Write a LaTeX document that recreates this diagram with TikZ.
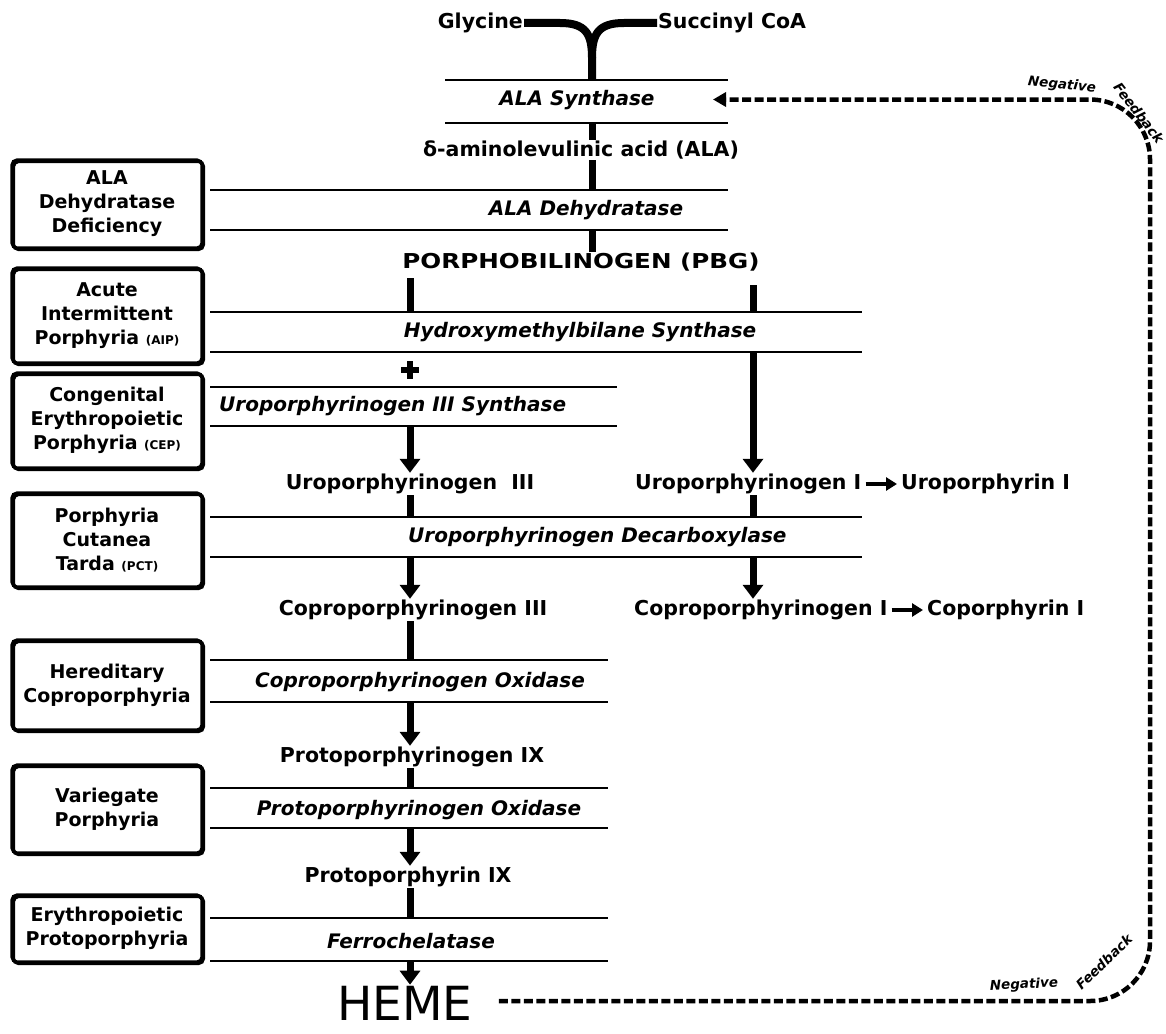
\documentclass[tikz,border=0pt]{standalone}
\usepackage{fontspec}
\usepackage{graphicx}
\setmainfont{DejaVu Sans}
\usetikzlibrary{arrows.meta}

\begin{document}
\begin{tikzpicture}[x=1pt,y=-1pt,
  chem/.style={font=\bfseries\fontsize{20.5}{22}\selectfont, inner sep=1pt},
  enz/.style={font=\bfseries\itshape\fontsize{20}{22}\selectfont, inner sep=1pt},
  band/.style={inner sep=0pt, outer sep=0pt},
  rule/.style={line width=2.5pt},
  stem/.style={line width=7pt},
  arr/.style={line width=7pt, -{Triangle[length=14pt,width=20pt]}},
  sarr/.style={line width=4.5pt, -{Triangle[length=11pt,width=13pt]}, shorten <=3pt, shorten >=3pt},
  disease/.style={draw, line width=3.2pt, rounded corners=5pt, minimum width=190pt,
    align=center, inner sep=2pt, font=\bfseries\fontsize{19}{24}\selectfont,
    preaction={draw, line width=3.2pt, transform canvas={shift={(1.5pt,-1.5pt)}}}},
  feedback/.style={line width=4.5pt, dash pattern=on 9pt off 3.5pt, rounded corners=60pt},
  fbtext/.style={font=\bfseries\itshape\fontsize{13.5}{13.5}\selectfont, inner sep=0pt},
]
\useasboundingbox (0,0) rectangle (1166,1033);

% reaction columns
\coordinate (colA) at (592,0);
\coordinate (colL) at (410,0);
\coordinate (colR) at (753,0);
\coordinate (colFB) at (1150,0);

% ---- enzyme bands ----
\node[band, minimum width=283pt, minimum height=43pt] (bsyn)   at (586.5,101.5) {};
\node[band, minimum width=518pt, minimum height=40pt] (bdehyd) at (469,210) {};
\node[band, minimum width=652pt, minimum height=40pt] (bhmbs)  at (536,332) {};
\node[band, minimum width=407pt, minimum height=39pt] (buro)   at (413.5,406.5) {};
\node[band, minimum width=652pt, minimum height=40pt] (burod)  at (536,537) {};
\node[band, minimum width=398pt, minimum height=42pt] (bcpo)   at (409,681) {};
\node[band, minimum width=398pt, minimum height=40pt] (bppo)   at (409,808) {};
\node[band, minimum width=398pt, minimum height=43pt] (bfech)  at (409,939.5) {};
\foreach \b in {bsyn,bdehyd,bhmbs,buro,burod,bcpo,bppo,bfech}{
  \draw[rule] (\b.north west) -- (\b.north east);
  \draw[rule] (\b.south west) -- (\b.south east);
}

% ---- enzyme names ----
\node[enz] (tsyn)   at (577,100) {ALA Synthase};
\node[enz] (tdehyd) at (586,210) {ALA Dehydratase};
\node[enz] (thmbs)  at (580,332) {Hydroxymethylbilane Synthase};
\node[enz, anchor=west] (turo) at (218,406) {Uroporphyrinogen III Synthase};
\node[enz, anchor=west] (turod) at (407,537) {Uroporphyrinogen Decarboxylase};
\node[enz] (tcpo)   at (420,682) {Coproporphyrinogen Oxidase};
\node[enz] (tppo)   at (419,810) {Protoporphyrinogen Oxidase};
\node[enz] (tfech)  at (411,941) {Ferrochelatase};

% ---- metabolites ----
\node[chem, anchor=east] (gly)  at (524,23) {Glycine};
\node[chem, anchor=west] (succ) at (657,23) {Succinyl CoA};
\node[chem] (ala)  at (581,150) {δ-aminolevulinic acid (ALA)};
\node[chem] (pbg)  at (581,262) {\scalebox{1.2}[1]{PORPHOBILINOGEN (PBG)}};
\node[chem] (uro3) at (410,484) {Uroporphyrinogen\ \ III};
\node[chem, anchor=west] (uro1) at (634,484) {Uroporphyrinogen I};
\node[chem, anchor=west] (uroporph) at (900,484) {Uroporphyrin I};
\node[chem] (copro3) at (413,610) {Coproporphyrinogen III};
\node[chem, anchor=west] (copro1) at (633,610) {Coproporphyrinogen I};
\node[chem, anchor=west] (coporph) at (926,610) {Coporphyrin I};
\node[chem] (protogen) at (412,757) {Protoporphyrinogen IX};
\node[chem] (proto) at (408,877) {Protoporphyrin IX};
\node[font=\fontsize{47}{47}\selectfont, inner sep=1pt] (heme) at (405,1003) {HEME};

% ---- Glycine + Succinyl CoA joining into ALA synthase ----
\draw[line width=8pt] (gly.east) -- (560,23) .. controls (586,23) and (592,34) .. (592,58)
  -- (bsyn.north -| colA);
\draw[line width=8pt] (succ.west) -- (624,23) .. controls (598,23) and (592,34) .. (592,58);

% ---- main pathway ----
\draw[stem] (bsyn.south -| colA) -- (ala.north -| colA);
\draw[stem] (ala.south -| colA) -- (bdehyd.north -| colA);
\draw[stem] (bdehyd.south -| colA) -- (pbg.north -| colA);
\draw[stem] ([yshift=-6pt]pbg.south -| colL) -- (bhmbs.north -| colL);
\draw[stem] ([yshift=-13pt]pbg.south -| colR) -- (bhmbs.north -| colR);

% cofactor mark between the two synthases
\node[inner sep=0pt, minimum size=17pt] (plus) at (410,370) {};
\draw[line width=6.5pt] (plus.west) -- (plus.east);
\draw[line width=6.5pt] (plus.north) -- (plus.south);

\draw[arr] (buro.south -| colL) -- (uro3.north -| colL);
\draw[arr] (bhmbs.south -| colR) -- (uro1.north -| colR);
\draw[sarr] (uro1.east) -- (uroporph.west);

\draw[stem] (uro3.south -| colL) -- (burod.north -| colL);
\draw[stem] (uro1.south -| colR) -- (burod.north -| colR);
\draw[arr] (burod.south -| colL) -- (copro3.north -| colL);
\draw[arr] (burod.south -| colR) -- (copro1.north -| colR);
\draw[sarr] (copro1.east) -- (coporph.west);

\draw[stem] (copro3.south -| colL) -- (bcpo.north -| colL);
\draw[arr] (bcpo.south -| colL) -- (protogen.north -| colL);
\draw[stem] (protogen.south -| colL) -- (bppo.north -| colL);
\draw[arr] (bppo.south -| colL) -- (proto.north -| colL);
\draw[stem] (proto.south -| colL) -- (bfech.north -| colL);
\draw[arr] (bfech.south -| colL) -- (heme.north -| colL);

% ---- negative feedback loop ----
\draw[feedback, -{Triangle[length=13pt,width=14pt]}]
  ([xshift=25pt,yshift=2pt]heme.east) -- ([yshift=2pt]colFB |- heme.east)
  -- ([yshift=2pt]colFB |- bsyn.east) -- ([xshift=-15pt,yshift=2pt]bsyn.east);
\node[fbtext, rotate=-6]  (fbt1) at (1062,85)  {Negative};
\node[fbtext, rotate=-52] (fbt2) at (1139,113) {Feedback};
\node[fbtext, rotate=3]   (fbb1) at (1024,985) {Negative};
\node[fbtext, rotate=44]  (fbb2) at (1104,962) {Feedback};

% ---- porphyrias ----
\node[disease, minimum height=88pt] (d1) at (107,204)   {ALA\\Dehydratase\\Deficiency};
\node[disease, minimum height=95pt] (d2) at (107,315.5) {Acute\\Intermittent\\Porphyria {\fontsize{12}{12}\selectfont(AIP)}};
\node[disease, minimum height=95pt] (d3) at (107,420.5) {Congenital\\Erythropoietic\\Porphyria {\fontsize{12}{12}\selectfont(CEP)}};
\node[disease, minimum height=94pt] (d4) at (107,540)   {Porphyria\\Cutanea\\Tarda {\fontsize{12}{12}\selectfont(PCT)}};
\node[disease, minimum height=90pt] (d5) at (107,685)   {Hereditary\\Coproporphyria};
\node[disease, minimum height=88pt] (d6) at (107,809)   {Variegate\\Porphyria};
\node[disease, minimum height=67pt] (d7) at (107,928.5) {Erythropoietic\\Protoporphyria};
\end{tikzpicture}
\end{document}
